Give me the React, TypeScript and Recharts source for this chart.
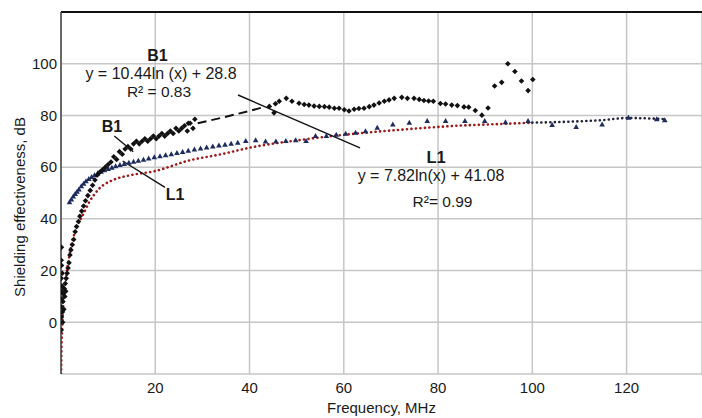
import React from 'react';
import {
  ComposedChart,
  Scatter,
  Line,
  XAxis,
  YAxis,
  CartesianGrid,
  ReferenceLine,
  ReferenceDot,
} from 'recharts';

type Pt = [number, number];

// frequency (MHz), shielding effectiveness (dB)
const b1Points: Pt[] = [
  [0.05, -3], [0.1, 2], [0.05, 6], [0.15, 9], [0.1, 12], [0.2, 14], [0.05, 17],
  [0.25, 19], [0.1, 22], [0.05, 24], [0.1, 29], [0.3, 4], [0.35, 0], [0.4, 8],
  [0.5, 11], [0.6, 5], [0.7, 13], [0.8, 10], [0.9, 15], [1.0, 12], [1.1, 17],
  [1.3, 19], [1.5, 21], [1.7, 23], [1.9, 26], [2.1, 28], [2.4, 30], [2.7, 32],
  [3.0, 35], [3.3, 37], [3.7, 39], [4.0, 41], [4.4, 43], [4.8, 45], [5.2, 47],
  [5.7, 49], [6.2, 51], [6.7, 53], [7.2, 55], [7.7, 57], [8.2, 58], [8.8, 59],
  [9.4, 60], [10, 61], [10.6, 62], [11.2, 64], [11.8, 63], [12.4, 66], [13, 65],
  [13.6, 67], [14.2, 68], [14.8, 67], [15.4, 69], [16, 70], [16.6, 69], [17.2, 70],
  [17.8, 71], [18.4, 70], [19, 71], [19.6, 72], [20.2, 71], [20.8, 72], [21.4, 73],
  [22, 72], [22.6, 73], [23.2, 74], [23.8, 73], [24.4, 75], [25, 74], [25.6, 75],
  [26.2, 76], [26.8, 74], [27, 77], [27.4, 77], [28, 75], [28.4, 78.5],
  [44.2, 83.5], [45.2, 81], [45.5, 84.5], [46.3, 85.5], [47.8, 86.6], [49, 85.5],
  [50.5, 84.7], [51.6, 84.2], [52.6, 84], [53.7, 83.6], [54.8, 83.5], [55.9, 83.4],
  [56.9, 83.2], [58, 82.8], [59, 82.8], [60.1, 82.2], [61.1, 81.7], [62.2, 82.4],
  [63.2, 82.7], [64.3, 82.8], [65.4, 83.4], [66.4, 84], [67.5, 84.8], [68.6, 85.5],
  [69.6, 86], [70.7, 86.6], [72.3, 87], [73.5, 86.6], [74.9, 86.6], [76, 86.2],
  [77, 85.8], [78, 85.6], [79, 85.5], [80.5, 84.6], [81.6, 84.4], [82.9, 84],
  [84.1, 83.8], [85.5, 83.3], [86.5, 83.2], [87.9, 81.9], [89.3, 80.1], [90.6, 82.9],
  [92, 91.4], [93.5, 92.8], [94.8, 100], [96.3, 97], [97.7, 93.3], [99.1, 89.6],
  [100.1, 93.9],
];

// dashed stretch of the B1 curve where no points were plotted
const b1Gap: Pt[] = [[29, 77], [35, 79.5], [43, 83.2]];

const l1Points: Pt[] = [
  [1.8, 46.4], [2.2, 47.5], [2.6, 48.6], [3, 49.6], [3.4, 50.5], [3.8, 51.4],
  [4.3, 52.6], [4.8, 53.6], [5.3, 54.5], [5.9, 55.4], [6.5, 56.2], [7.1, 56.9],
  [7.8, 57.6], [8.5, 58.2], [9.2, 58.8], [10, 59.3], [10.8, 59.8], [11.6, 60.3],
  [12.5, 60.8], [13.4, 61.2], [14.4, 61.7], [15.4, 62.1], [16.4, 62.5], [17.5, 62.9],
  [18.6, 63.3], [19.8, 63.8], [21, 64.2], [22.2, 64.6], [23.4, 65], [24.6, 65.5],
  [25.8, 65.9], [27, 66.3], [28.3, 66.8], [29.6, 67.2], [30.9, 67.6], [32.2, 68],
  [33.5, 68.4], [34.8, 68.7], [36.1, 69], [37.5, 69.4], [39.2, 70.1], [41.3, 70.4],
  [43.4, 69.9], [45.6, 69.9], [47.7, 70.1], [49.8, 70.4], [52, 70.1], [54, 72],
  [56.3, 72], [58.4, 72.5], [60.4, 72.9], [62.5, 73.3], [64.6, 73.9], [67.1, 75.2],
  [70.4, 76.5], [73.9, 77.2], [77.7, 77.8], [81.6, 77.8], [85.7, 77.8], [89.9, 77.8],
  [94.3, 77.4], [99.1, 77.8], [104.2, 76.3], [109.3, 75.5], [114.8, 76.5],
  [120.4, 79.1], [126.4, 78.5], [128.1, 78.1],
];

const trendRed: Pt[] = [
  [0.02, -20], [0.1, -10], [0.25, -2], [0.4, 4], [0.7, 11], [1.1, 17.5], [1.7, 25],
  [2.5, 32], [3.5, 37.5], [4.5, 41], [6, 46.5], [8, 51.5], [11, 55], [14.5, 56.8],
  [20, 58.5], [27, 62.5], [34, 65], [40, 67.5], [52, 70.8], [60, 72.5], [73, 74.6],
  [84, 76], [92, 76.6], [100, 77.2],
];

const trendDark: Pt[] = [[100, 77.2], [108, 77.6], [115, 78.2], [120, 79], [128, 78.6]];

const xTicks = [20, 40, 60, 80, 100, 120];
const yTicks = [-20, 0, 20, 40, 60, 80, 100, 120];

// leader lines [from, to]
const leaders: [Pt, Pt][] = [
  [[11.3, 72.05], [15.34, 65.98]],
  [[13.09, 62.38], [22.07, 52.21]],
  [[37.56, 87.9], [63.44, 67.41]],
];

const notes = [
  { x: 20.48, y: 103.2, text: 'B1', size: 16, bold: true },
  { x: 21.22, y: 96.2, text: 'y = 10.44ln (x) + 28.8', size: 16, bold: false },
  { x: 20.79, y: 89.2, text: 'R² = 0.83', size: 15.5, bold: false },
  { x: 10.82, y: 75.9, text: 'B1', size: 16, bold: true },
  { x: 24.19, y: 49.6, text: 'L1', size: 16, bold: true },
  { x: 79.57, y: 63.9, text: 'L1', size: 16.5, bold: true },
  { x: 78.51, y: 57.0, text: 'y = 7.82ln(x) + 41.08', size: 16, bold: false },
  { x: 80.95, y: 46.7, text: 'R²= 0.99', size: 15.5, bold: false },
];

const rows = (pts: Pt[]) => pts.map(([x, y]) => ({ x, y }));

const FONT = '"Liberation Sans", Arial, sans-serif';
const INK = '#1a1a1a';

const Diamond = (p: any) => {
  const { cx, cy } = p;
  const r = 2.8;
  return (
    <polygon
      points={`${cx},${cy - r} ${cx + r},${cy} ${cx},${cy + r} ${cx - r},${cy}`}
      fill="#111"
    />
  );
};

const Triangle = (p: any) => {
  const { cx, cy } = p;
  return (
    <polygon
      points={`${cx},${cy - 3} ${cx + 2.8},${cy + 2} ${cx - 2.8},${cy + 2}`}
      fill="#1d2b5e"
    />
  );
};

export default function App() {
  return (
    <div style={{ position: 'absolute', left: 0, top: 0, fontFamily: FONT }}>
      <ComposedChart
        width={702}
        height={418}
        margin={{ top: 12, right: 0, bottom: 0, left: 0 }}
      >
        <CartesianGrid stroke="#c6c6c6" strokeWidth={1.5} />
        <XAxis
          type="number"
          dataKey="x"
          domain={[0, 136]}
          allowDataOverflow
          ticks={xTicks}
          height={44}
          tickLine={false}
          axisLine={false}
          tick={{ fill: INK, fontSize: 15, fontFamily: FONT }}
          label={{
            content: ({ viewBox }: any) => (
              <text
                x={viewBox.x + viewBox.width / 2}
                y={viewBox.y + 39}
                textAnchor="middle"
                fill={INK}
                fontSize={15}
                fontFamily={FONT}
              >
                Frequency, MHz
              </text>
            ),
          }}
        />
        <YAxis
          type="number"
          domain={[-20, 120]}
          allowDataOverflow
          ticks={yTicks}
          width={61}
          tickSize={2}
          tickMargin={2}
          tickLine={false}
          axisLine={{ stroke: '#444', strokeWidth: 1.5 }}
          tick={{ fill: INK, fontSize: 15, fontFamily: FONT }}
          tickFormatter={(v: number) => (v < 0 || v > 100 ? '' : String(v))}
          label={{
            content: ({ viewBox }: any) => {
              const cx = 19;
              const cy = viewBox.y + viewBox.height / 2 + 14;
              return (
                <text
                  x={cx}
                  y={cy}
                  transform={`rotate(-90 ${cx} ${cy})`}
                  textAnchor="middle"
                  dominantBaseline="central"
                  fill={INK}
                  fontSize={15}
                  fontFamily={FONT}
                >
                  Shielding effectiveness, dB
                </text>
              );
            },
          }}
        />
        <ReferenceLine y={120} stroke="#111" strokeWidth={2} />

        <Line
          data={rows(trendRed)}
          dataKey="y"
          type="monotone"
          stroke="#9e1a1a"
          strokeWidth={2.6}
          strokeDasharray="0.1 4.4"
          strokeLinecap="round"
          dot={false}
          isAnimationActive={false}
        />
        <Line
          data={rows(trendDark)}
          dataKey="y"
          type="monotone"
          stroke="#23233a"
          strokeWidth={2.6}
          strokeDasharray="0.1 4.4"
          strokeLinecap="round"
          dot={false}
          isAnimationActive={false}
        />
        <Scatter
          data={rows(l1Points)}
          dataKey="y"
          shape={Triangle}
          isAnimationActive={false}
        />
        <Scatter
          data={rows(b1Points)}
          dataKey="y"
          shape={Diamond}
          isAnimationActive={false}
        />
        <Line
          data={rows(b1Gap)}
          dataKey="y"
          type="monotone"
          stroke="#111"
          strokeWidth={2}
          strokeDasharray="9 5"
          dot={false}
          isAnimationActive={false}
        />

        {leaders.map(([a, b], i) => (
          <ReferenceLine
            key={`ld${i}`}
            segment={[
              { x: a[0], y: a[1] },
              { x: b[0], y: b[1] },
            ]}
            stroke="#111"
            strokeWidth={1.4}
          />
        ))}
        {notes.map((n, i) => (
          <ReferenceDot
            key={`nt${i}`}
            x={n.x}
            y={n.y}
            r={0}
            fill="none"
            stroke="none"
            label={{
              value: n.text,
              position: 'center',
              fill: INK,
              fontSize: n.size,
              fontWeight: n.bold ? 700 : 400,
              fontFamily: FONT,
            }}
          />
        ))}
      </ComposedChart>
    </div>
  );
}
